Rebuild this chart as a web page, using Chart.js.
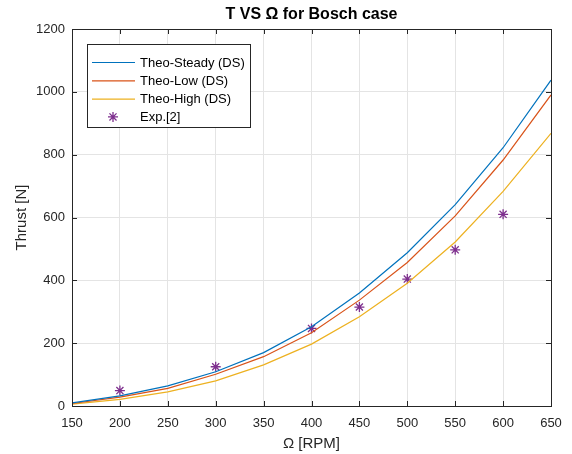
<!DOCTYPE html>
<html>
<head>
<meta charset="utf-8">
<script src="https://cdn.jsdelivr.net/npm/chart.js@4/dist/chart.umd.min.js"></script>
<style>
  html, body { margin: 0; padding: 0; background: #fff; }
  #wrap { width: 572px; height: 454px; }
</style>
</head>
<body>
<div id="wrap"><canvas id="thrust"></canvas></div>
<script>
// rotor speed, RPM
var omega = [150, 200, 250, 300, 350, 400, 450, 500, 550, 600, 650];
// theoretical thrust curves, N
var theoSteady = [10, 32, 64, 109, 170, 252, 360, 488, 641, 822, 1037];
var theoLow    = [8, 28, 56, 101, 157, 233, 337, 457, 605, 783, 990];
var theoHigh   = [6, 21, 45, 80, 131, 197, 284, 391, 522, 683, 868];
// experiment [2]
var expOmega  = [200, 300, 400, 450, 500, 550, 600];
var expThrust = [49, 125, 247, 315, 404, 497, 610];

var xTicks = [150, 200, 250, 300, 350, 400, 450, 500, 550, 600, 650];
var yTicks = [0, 200, 400, 600, 800, 1000, 1200];

var FONT = '"Liberation Sans", Arial, Helvetica, sans-serif';
var INK = '#262626';

function pairs(xs, ys) {
  return xs.map(function (x, i) { return { x: x, y: ys[i] }; });
}

function drawStar(ctx, cx, cy, r) {
  var d = r * 0.7071;
  ctx.beginPath();
  ctx.moveTo(cx - r, cy); ctx.lineTo(cx + r, cy);
  ctx.moveTo(cx, cy - r); ctx.lineTo(cx, cy + r);
  ctx.moveTo(cx - d, cy - d); ctx.lineTo(cx + d, cy + d);
  ctx.moveTo(cx - d, cy + d); ctx.lineTo(cx + d, cy - d);
  ctx.stroke();
}

// matlab style box, inward ticks, title and inner legend
var matlabFrame = {
  id: 'matlabFrame',
  afterDraw: function (chart) {
    var ctx = chart.ctx;
    var a = chart.chartArea;
    var xs = chart.scales.x, ys = chart.scales.y;
    var tl = 5;
    ctx.save();
    ctx.strokeStyle = INK;
    ctx.lineWidth = 1;
    ctx.beginPath();
    xTicks.forEach(function (v) {
      var px = Math.round(xs.getPixelForValue(v)) + 0.5;
      ctx.moveTo(px, a.bottom); ctx.lineTo(px, a.bottom - tl);
      ctx.moveTo(px, a.top); ctx.lineTo(px, a.top + tl);
    });
    yTicks.forEach(function (v) {
      var py = Math.round(ys.getPixelForValue(v)) + 0.5;
      ctx.moveTo(a.left, py); ctx.lineTo(a.left + tl, py);
      ctx.moveTo(a.right, py); ctx.lineTo(a.right - tl, py);
    });
    ctx.stroke();
    ctx.strokeRect(Math.round(a.left) + 0.5, Math.round(a.top) + 0.5,
      Math.round(a.right - a.left), Math.round(a.bottom - a.top));

    // title
    ctx.fillStyle = '#000';
    ctx.font = 'bold 16px ' + FONT;
    ctx.textAlign = 'center';
    ctx.textBaseline = 'middle';
    ctx.fillText('T VS \u03A9 for Bosch case', (a.left + a.right) / 2, 15);

    // legend
    var bx = a.left + 15, by = a.top + 15, bw = 163, bh = 83;
    ctx.fillStyle = '#fff';
    ctx.fillRect(bx, by, bw, bh);
    ctx.strokeStyle = INK;
    ctx.lineWidth = 1;
    ctx.strokeRect(bx + 0.5, by + 0.5, bw, bh);
    ctx.font = '13px ' + FONT;
    ctx.textAlign = 'left';
    chart.data.datasets.forEach(function (ds, i) {
      var ry = by + 18 + i * 18.3;
      ctx.strokeStyle = ds.borderColor;
      ctx.lineWidth = ds.borderWidth;
      if (ds.showLine === false) {
        drawStar(ctx, bx + 26, ry, ds.pointRadius);
      } else {
        ctx.beginPath();
        ctx.moveTo(bx + 5, ry + 0.5); ctx.lineTo(bx + 48, ry + 0.5);
        ctx.stroke();
      }
      ctx.fillStyle = '#000';
      ctx.fillText(ds.label, bx + 53, ry + 1);
    });
    ctx.restore();
  }
};

var canvas = document.getElementById('thrust');
var chart = new Chart(canvas, {
  type: 'line',
  data: {
    datasets: [
      { label: 'Theo-Steady (DS)', data: pairs(omega, theoSteady), borderColor: '#0072BD', borderWidth: 1.2, pointRadius: 0, tension: 0 },
      { label: 'Theo-Low (DS)', data: pairs(omega, theoLow), borderColor: '#D95319', borderWidth: 1.2, pointRadius: 0, tension: 0 },
      { label: 'Theo-High (DS)', data: pairs(omega, theoHigh), borderColor: '#EDB120', borderWidth: 1.2, pointRadius: 0, tension: 0 },
      { label: 'Exp.[2]', data: pairs(expOmega, expThrust), borderColor: '#7E2F8E', backgroundColor: '#7E2F8E', showLine: false, pointStyle: 'star', pointRadius: 5, borderWidth: 1.3 }
    ]
  },
  options: {
    responsive: true,
    maintainAspectRatio: false,
    animation: false,
    layout: { padding: { top: 29, right: 21, left: 0, bottom: 0 } },
    plugins: {
      legend: { display: false },
      title: { display: false },
      tooltip: { enabled: false }
    },
    scales: {
      x: {
        type: 'linear', min: 150, max: 650,
        afterBuildTicks: function (s) { s.ticks = xTicks.map(function (v) { return { value: v }; }); },
        afterFit: function (s) { s.height = 48; },
        grid: { color: '#e4e4e4', drawTicks: false },
        border: { display: false },
        ticks: { color: INK, font: { family: FONT, size: 13 }, padding: 10, maxRotation: 0,
          callback: function (v) { return String(v); } },
        title: { display: true, text: '\u03A9 [RPM]', color: INK, font: { family: FONT, size: 15 }, padding: { top: 0, bottom: 1 } }
      },
      y: {
        min: 0, max: 1200,
        afterBuildTicks: function (s) { s.ticks = yTicks.map(function (v) { return { value: v }; }); },
        afterFit: function (s) { s.width = 72; },
        grid: { color: '#e4e4e4', drawTicks: false },
        border: { display: false },
        ticks: { color: INK, font: { family: FONT, size: 13 }, padding: 7,
          callback: function (v) { return String(v); } },
        title: { display: true, text: 'Thrust [N]', color: INK, font: { family: FONT, size: 15 }, padding: { top: 13, bottom: 0 } }
      }
    }
  },
  plugins: [matlabFrame]
});
</script>
</body>
</html>
